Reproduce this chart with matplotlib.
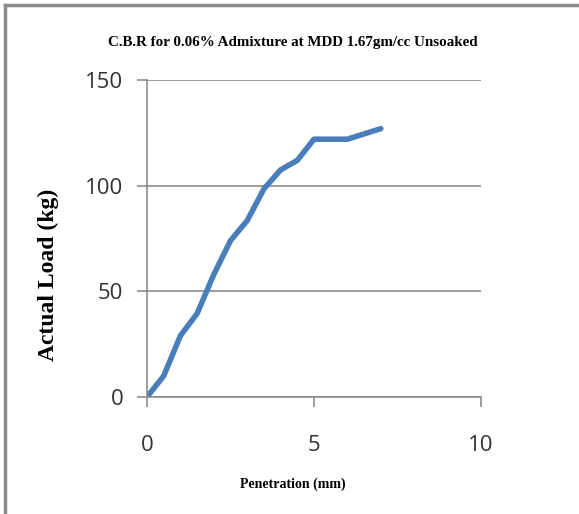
import matplotlib.pyplot as plt
from matplotlib.lines import Line2D

# CBR test data
penetration = [0, 0.5, 1.0, 1.5, 2.0, 2.5, 3.0, 3.5, 4.0, 4.5, 5.0, 6.0, 7.0]
load = [0, 10, 29, 39.5, 58, 74, 83.5, 98.5, 107.5, 112, 122, 122, 127]

x_ticks = [0, 5, 10]
y_ticks = [0, 50, 100, 150]

fig = plt.figure(figsize=(5.79, 5.14), dpi=100)
ax = fig.add_axes([0.2539, 0.2276, 0.5769, 0.6167])

ax.plot(penetration, load, color='#4a7ebb', linewidth=4, solid_capstyle='round', solid_joinstyle='round')

ax.set_xlim(0, 10)
ax.set_ylim(0, 150)
ax.set_xticks(x_ticks)
ax.set_yticks(y_ticks)
ax.grid(axis='y', color='#8c8c8c', linewidth=1.2)
ax.set_axisbelow(True)

for side in ['top', 'right']:
    ax.spines[side].set_visible(False)
for side in ['left', 'bottom']:
    ax.spines[side].set_color('#8c8c8c')
    ax.spines[side].set_linewidth(1.2)

ax.tick_params(axis='both', colors='#8c8c8c', length=7, width=1.2, labelcolor='#333333')
ax.tick_params(axis='y', pad=10)
ax.tick_params(axis='x', pad=20)
for lbl in ax.get_xticklabels() + ax.get_yticklabels():
    lbl.set_fontfamily('Open Sans')
    lbl.set_fontsize(16)

fig.text(0.505, 0.918, 'C.B.R for 0.06% Admixture at MDD 1.67gm/cc Unsoaked',
         ha='center', va='center', fontsize=10.8, fontweight='bold', family='Liberation Serif')
fig.text(0.505, 0.058, 'Penetration (mm)', ha='center', va='center',
         fontsize=10, fontweight='bold', family='Liberation Serif')
fig.text(0.083, 0.465, 'Actual Load (kg)', ha='center', va='center', rotation=90,
         fontsize=17, fontweight='bold', family='Liberation Serif')

# grey frame at the top and left, as in the source image
fig.add_artist(Line2D([0.008, 1.0], [0.99, 0.99], transform=fig.transFigure, color='#8c8c8c', linewidth=2.5))
fig.add_artist(Line2D([0.008, 0.008], [0.0, 0.99], transform=fig.transFigure, color='#8c8c8c', linewidth=2.5))

fig.savefig('out.png', dpi=100)
